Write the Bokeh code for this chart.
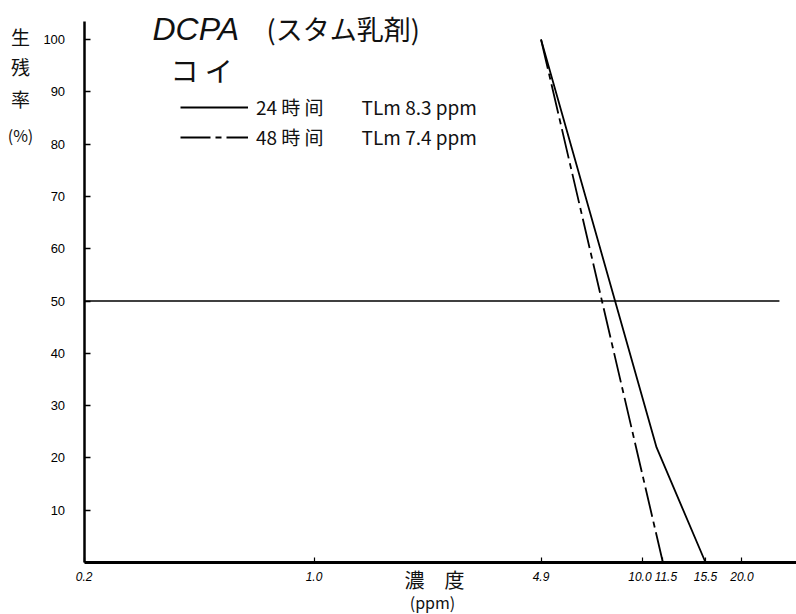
from bokeh.plotting import figure
from bokeh.models import Range1d, FixedTicker, Label, Legend, LegendItem
from bokeh.embed import file_html
from bokeh.resources import INLINE

# ---- data ----
conc_24h = [4.9, 11.0, 15.5]
surv_24h = [100, 22, 0]
conc_48h = [4.9, 11.5]
surv_48h = [100, 0]
ref_x = [0.2, 26.0]
ref_y = [50, 50]
x_ticks = [0.2, 1.0, 4.9, 10.0, 11.5, 15.5, 20.0]
x_tick_labels = ["0.2", "1.0", "4.9", "10.0\u2002", "\u200211.5", "15.5", "20.0"]
y_ticks = [10, 20, 30, 40, 50, 60, 70, 80, 90, 100]
legend_24 = "24 時 间\u3000\u3000TLm 8.3 ppm"
legend_48 = "48 時 间\u3000\u3000TLm 7.4 ppm"
title_a = "DCPA"
title_b = "(スタム乳剤)"
subtitle = "コ イ"
y_label_chars = ["生", "残", "率", "(%)"]
x_label = "濃\u3000度"
x_unit = "(ppm)"

W, H = 796, 614

# the frame covers the whole page; the axes sit at fixed data locations
p = figure(width=W, height=H, x_axis_type="log",
           x_range=Range1d(0.1114, 29.3), y_range=Range1d(-9.94, 107.46),
           output_backend="svg", toolbar_location=None, min_border=0)
p.grid.visible = False
p.outline_line_color = None
p.background_fill_color = "white"
p.border_fill_color = "white"

# axes
p.yaxis.fixed_location = 0.2
p.yaxis.bounds = (0, 103.4)
p.yaxis.ticker = FixedTicker(ticks=y_ticks)
p.yaxis.major_tick_in = 6
p.yaxis.major_tick_out = 0
p.yaxis.minor_tick_line_color = None
p.yaxis.axis_line_width = 2.5
p.yaxis.major_tick_line_width = 1.5
p.yaxis.major_label_standoff = 19
p.yaxis.major_label_text_font = "Liberation Sans"
p.yaxis.major_label_text_font_size = "13px"
p.yaxis.major_label_text_color = "#000000"

p.xaxis.fixed_location = 0
p.xaxis.bounds = (0.2, 29.3)
p.xaxis.ticker = FixedTicker(ticks=x_ticks)
p.xaxis.major_label_overrides = dict(zip(x_ticks, x_tick_labels))
p.xaxis.major_tick_in = 5
p.xaxis.major_tick_out = 0
p.xaxis.minor_tick_line_color = None
p.xaxis.axis_line_width = 3
p.xaxis.major_tick_line_width = 1.2
p.xaxis.major_label_standoff = 7
p.xaxis.major_label_text_font = "Liberation Sans"
p.xaxis.major_label_text_font_size = "12px"
p.xaxis.major_label_text_font_style = "italic"
p.xaxis.major_label_text_color = "#000000"

# lines
p.line(ref_x, ref_y, line_color="black", line_width=1.3)
r24 = p.line(conc_24h, surv_24h, line_color="black", line_width=1.8)
r48 = p.line(conc_48h, surv_48h, line_color="black", line_width=1.8,
             line_dash="30 5 6 5")

legend = Legend(items=[LegendItem(label=legend_24, renderers=[r24]),
                       LegendItem(label=legend_48, renderers=[r48])],
                location=(180, H - 150), orientation="vertical",
                glyph_width=68, glyph_height=22, label_height=22, spacing=3,
                padding=0, margin=0, border_line_color=None,
                background_fill_alpha=0, label_standoff=8,
                label_text_font="Noto Sans CJK JP",
                label_text_font_size="19px", label_text_color="#111111")
p.add_layout(legend)


def add_label(cx, cy, text, size, align="left", style="normal", font="Noto Sans CJK JP"):
    p.add_layout(Label(x=cx, y=H - cy, x_units="screen", y_units="screen",
                       text=text, text_font=font, text_font_size=size,
                       text_font_style=style, text_align=align,
                       text_baseline="middle", text_color="#111111"))


add_label(152, 28, title_a, "32px", style="italic", font="Liberation Sans")
add_label(266, 28, title_b, "27px")
add_label(170, 69, subtitle, "28px")
for ch, cy in zip(y_label_chars, [36, 66, 98, 134]):
    add_label(20, cy, ch, "19px" if ch != "(%)" else "16px", align="center")
add_label(434, 579, x_label, "20px", align="center")
add_label(432, 601, x_unit, "16px", align="center")

open("out.html", "w").write(file_html(p, INLINE))
